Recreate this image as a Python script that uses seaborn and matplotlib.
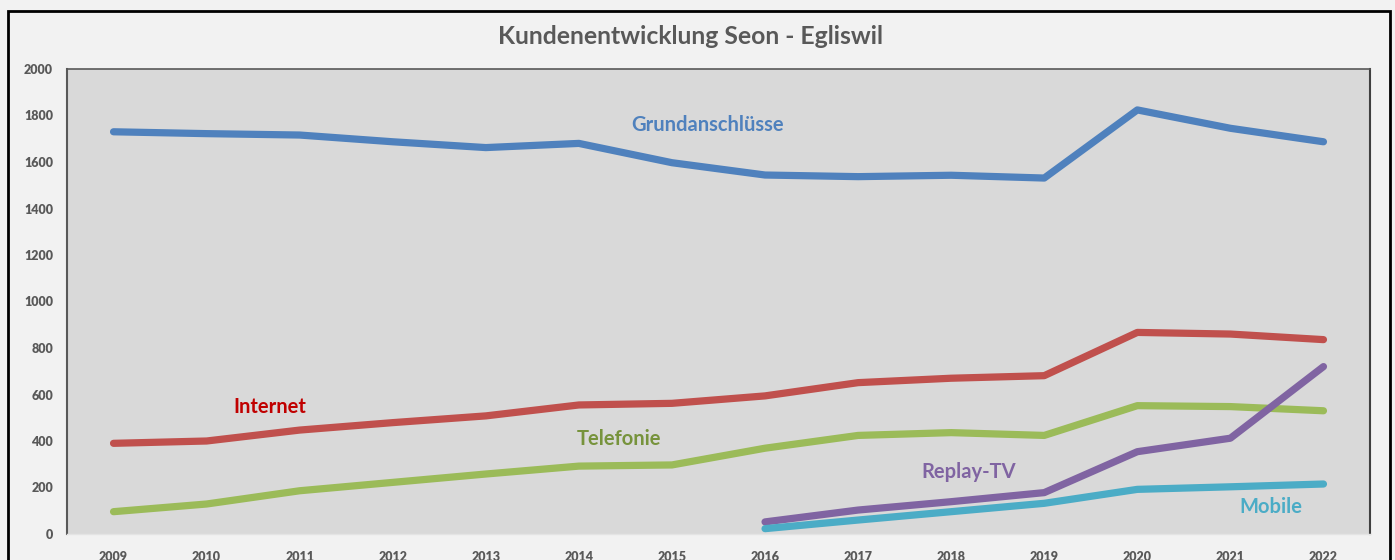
import numpy as np
import pandas as pd
import matplotlib
matplotlib.use("Agg")
import matplotlib.pyplot as plt
import seaborn as sns
from matplotlib.patches import Rectangle

years = list(range(2009, 2023))
grundanschluesse = [1730, 1722, 1716, 1687, 1662, 1680, 1597, 1544, 1537, 1543, 1531, 1824, 1745, 1687]
internet = [390, 400, 447, 479, 508, 555, 562, 594, 651, 670, 681, 867, 860, 836]
telefonie = [96, 129, 186, 222, 258, 292, 297, 369, 424, 436, 424, 552, 548, 530]
replay_tv = [np.nan] * 7 + [52, 103, 139, 178, 354, 412, 720]
mobile = [np.nan] * 7 + [23, 60, 96, 132, 192, 203, 215]

series_names = ["Grundanschlüsse", "Internet", "Telefonie", "Replay-TV", "Mobile"]
line_colors = ["#4f81bd", "#c0504d", "#9bbb59", "#8064a2", "#4bacc6"]
label_colors = ["#4f81bd", "#c00000", "#77933c", "#8064a2", "#4bacc6"]
# label anchor positions (year, value) for the inline series names
label_x = [2015.38, 2010.68, 2014.43, 2018.19, 2021.43]
label_y = [1759, 546, 409, 267, 116]

title = "Kundenentwicklung Seon - Egliswil"

rows = []
for name, vals in zip(series_names, [grundanschluesse, internet, telefonie, replay_tv, mobile]):
    for y, v in zip(years, vals):
        rows.append({"Jahr": y, "Kunden": v, "Serie": name})
df = pd.DataFrame(rows).dropna()

sns.set_style("white")
plt.rcParams["font.family"] = ["Lato", "DejaVu Sans"]

fig = plt.figure(figsize=(13.95, 5.6), dpi=100, facecolor="#f2f2f2")
ax = fig.add_axes([67 / 1395, 26 / 560, (1370 - 67) / 1395, (534 - 69) / 560])
ax.set_facecolor("#d9d9d9")

sns.lineplot(data=df, x="Jahr", y="Kunden", hue="Serie", hue_order=series_names,
             palette=line_colors, linewidth=5.2, ax=ax, legend=False,
             solid_capstyle="round", solid_joinstyle="round")

ax.set_xlim(2008.5, 2022.5)
ax.set_ylim(0, 2000)
ax.set_yticks(range(0, 2001, 200))
ax.set_xticks(years)
ax.set_xticklabels([str(y) for y in years])
ax.set_xticks(np.arange(2008.5, 2023, 1.0), minor=True)
ax.set_xlabel("")
ax.set_ylabel("")

ax.tick_params(axis="y", length=0, pad=10, labelsize=9, labelcolor="#595959")
ax.tick_params(axis="x", which="major", length=0, pad=12, labelsize=9, labelcolor="#595959")
ax.tick_params(axis="x", which="minor", length=5, width=1, color="#bfbfbf")
for lab in ax.get_xticklabels() + ax.get_yticklabels():
    lab.set_fontweight("heavy")

ax.spines["left"].set_color("#595959")
ax.spines["left"].set_linewidth(1.5)
ax.spines["top"].set_color("#595959")
ax.spines["top"].set_linewidth(1.2)
ax.spines["right"].set_color("#404040")
ax.spines["right"].set_linewidth(1.5)
ax.spines["bottom"].set_color("#e4e4e4")
ax.spines["bottom"].set_linewidth(1)

for name, c, lx, ly in zip(series_names, label_colors, label_x, label_y):
    ax.text(lx, ly, name, color=c, fontsize=14.5, fontweight="bold",
            ha="center", va="center")

fig.text(690 / 1395, 1 - 37 / 560, title, ha="center", va="center",
         fontsize=17.8, fontweight="bold", color="#595959")

border = Rectangle((8 / 1395, -0.1), (1390 - 8) / 1395, 1.1 - 11 / 560,
                   transform=fig.transFigure, fill=False, edgecolor="black",
                   linewidth=2, clip_on=False)
fig.patches.append(border)

fig.savefig("out.png", dpi=100, facecolor=fig.get_facecolor())
